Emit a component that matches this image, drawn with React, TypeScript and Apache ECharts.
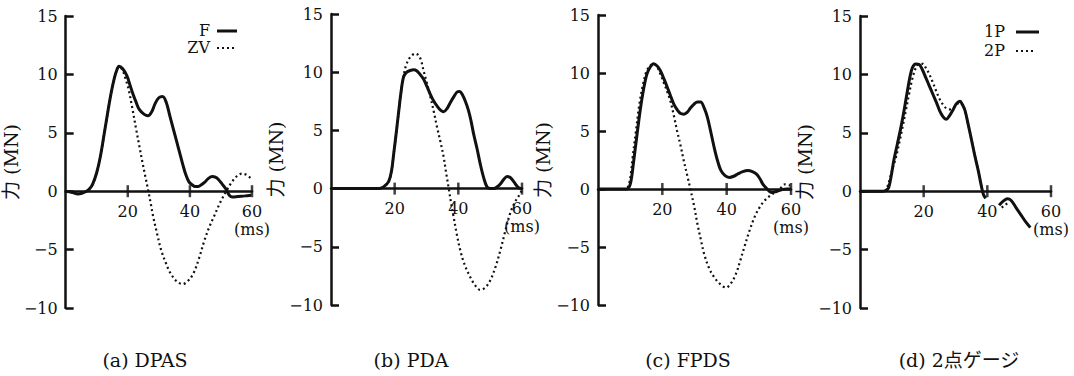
import React, { useEffect, useRef } from 'react';
import * as echarts from 'echarts';

// ---------- data ----------
const yMin = -10;
const yMax = 15;
const yStep = 5;
const xMin = 0;
const xMax = 60;
const xStep = 20;
const xTickValues = [20, 40, 60];
const xUnit = '(ms)';
const yName = '力 (MN)';
const captions = ['(a) DPAS', '(b) PDA', '(c) FPDS', '(d) 2点ゲージ'];
const legendA = ['F', 'ZV'];
const legendD = ['1P', '2P'];

// (a) DPAS
const aF = [[0,0],[2,-0.1],[4,-0.25],[5.5,-0.15],[6.7,0],[7.7,0.2],[8.7,0.6],[10,1.6],[11.2,3],[12.4,4.9],[13.7,7],[14.7,8.5],[15.7,9.7],[16.5,10.4],[17.2,10.7],[18.3,10.5],[19.7,9.9],[20.7,9.1],[21.7,8.3],[22.7,7.6],[23.7,7.0],[25.2,6.6],[26.5,6.45],[27.7,6.8],[28.8,7.5],[30,8.0],[31.2,8.1],[32.4,7.6],[33.5,6.5],[34.7,5.3],[35.7,4.3],[36.7,3.3],[37.7,2.3],[38.7,1.4],[39.7,0.8],[40.7,0.55],[41.7,0.4],[42.7,0.4],[43.7,0.55],[44.7,0.75],[46,1.1],[47.2,1.25],[48.2,1.2],[49.2,1.0],[50.4,0.6],[51.7,0.15],[52.7,-0.35],[53.7,-0.5],[55.5,-0.45],[57.7,-0.4],[59.7,-0.35]];
const aZV = [[0,0],[2,-0.1],[4,-0.25],[6.7,0],[8.7,0.6],[10,1.6],[11.2,3],[12.4,4.9],[13.7,7],[14.7,8.5],[15.7,9.7],[16.5,10.4],[17.2,10.7],[18.4,10.3],[19.3,9.6],[20.2,8.8],[21.4,7.2],[22.7,5.3],[23.7,3.9],[24.7,2.5],[25.7,1.2],[26.7,-0.1],[27.5,-1.2],[28.2,-2.2],[29.5,-3.7],[30.7,-5],[32.2,-6.1],[33.7,-7],[35.7,-7.7],[37.7,-7.95],[39.5,-7.65],[41.2,-7],[43,-5.7],[44.7,-4.2],[46.2,-3.1],[47.7,-2.2],[49.7,-1.0],[51.7,0],[53.7,0.85],[55.2,1.3],[56.7,1.5],[58.2,1.4],[59.7,1.1]];

// (b) PDA
const bF = [[0,0],[10,0],[15,0],[16.5,0.15],[18.1,0.6],[19,1.5],[19.7,3],[20.5,4.8],[21.3,6.7],[22,8.3],[22.8,9.6],[23.8,10],[24.9,10.15],[26,10.2],[27,10.1],[28,9.8],[29.1,9.4],[30.1,8.8],[31.2,8.1],[32.3,7.5],[33.3,7.1],[34.4,6.75],[35.4,6.6],[36.5,6.9],[37.5,7.4],[38.6,7.9],[39.6,8.3],[40.4,8.35],[41.2,8.1],[42.2,7.5],[43.2,6.7],[44,5.8],[44.8,4.7],[45.9,3.4],[46.9,2.1],[48,0.9],[49,0.15],[50,0],[51.1,0],[52.2,0.15],[53.2,0.4],[54.3,0.8],[55.3,1.05],[56.3,0.95],[57.4,0.6],[58.5,0.2],[59.5,0],[60,0]];
const bZV = [[0,0],[15,0],[16.5,0.15],[18.1,0.6],[19,1.5],[19.7,3],[20.5,4.8],[21.3,6.7],[22,8.3],[22.8,9.7],[23.6,10.6],[24.9,11.3],[26.5,11.6],[27.5,11.45],[28.3,11.0],[29.1,10.1],[30.1,9.1],[31.2,7.9],[32.3,6.6],[33.3,5.3],[34.4,4.0],[35.4,2.7],[36.2,1.3],[37,0],[37.7,-1.2],[38.5,-2.4],[39.5,-3.9],[40.6,-5.3],[41.8,-6.4],[43.2,-7.3],[45,-8.2],[46.9,-8.7],[48.5,-8.5],[50,-7.9],[51.6,-6.8],[53.2,-5.3],[54.7,-3.7],[56.3,-2.1],[57.9,-1.1],[59.5,-0.4],[60,0]];

// (c) FPDS
const cF = [[0,0],[5,0],[8.9,0],[9.9,0.3],[10.5,1.1],[11,2.2],[12,4.4],[13.1,6.75],[14.1,8.5],[15.2,9.9],[16.2,10.5],[17.3,10.8],[18.4,10.6],[19.4,10.2],[20.5,9.5],[21.5,8.8],[22.6,8],[23.6,7.3],[24.7,6.8],[25.7,6.5],[26.7,6.45],[27.7,6.6],[28.8,7],[29.8,7.3],[30.9,7.5],[31.9,7.5],[33,7.0],[34,6.2],[35,5],[36.1,3.6],[37.1,2.5],[38.2,1.6],[39.5,1.15],[40.8,1],[42.2,1.1],[43.5,1.3],[45,1.5],[46.6,1.6],[48,1.5],[49.2,1.3],[50.3,0.9],[51.3,0.4],[52.6,0],[53.9,-0.3],[55,-0.25],[56,-0.15],[57.3,-0.05],[58.6,0],[60,0]];
const cZV = [[0,0],[5,0],[8.6,0],[9.6,0.4],[10.3,1.5],[10.8,2.8],[11.8,5],[12.8,7.2],[13.9,8.9],[15,10.1],[16.1,10.6],[17.3,10.8],[18.4,10.5],[19.4,9.9],[20.4,9.2],[21.5,8.4],[22.5,7.6],[23.6,6.3],[24.6,5],[25.7,3.7],[26.7,2.4],[27.8,1.1],[28.8,-0.1],[29.9,-1.5],[30.9,-3],[32,-4.4],[33,-5.6],[34.5,-6.8],[36.1,-7.6],[38,-8.2],[39.8,-8.5],[41.4,-8.1],[42.9,-7.3],[44.2,-6.2],[45.5,-5],[47.1,-3.6],[48.7,-2.4],[50.2,-1.6],[51.8,-1],[53.4,-0.6],[55,-0.3],[56.5,0],[58.1,0.4],[59.7,0.3]];

// (d) 2点ゲージ
const d1P = [[0,0],[5,0],[7.4,0],[8.3,0.1],[9,0.3],[9.8,1.3],[10.6,2.6],[11.7,4],[12.8,5.4],[13.9,7],[14.9,8.6],[15.7,9.8],[16.5,10.6],[17.5,10.9],[18.6,10.85],[19.6,10.4],[20.7,9.7],[21.8,9],[22.9,8.3],[24,7.6],[25,6.9],[26,6.4],[27.1,6.15],[28.2,6.5],[29.3,7],[30.3,7.5],[31.4,7.7],[32.2,7.4],[33,6.9],[34,5.7],[35.1,4.3],[36.1,3.0],[37.2,1.7],[38,0.6],[38.8,-0.3],[39.5,-0.6],[42,null],[43.7,-1.2],[45,-0.85],[46.3,-0.65],[47.5,-0.8],[49,-1.4],[50.5,-2.0],[52,-2.6],[53.5,-3.1]];
const d2P = [[0,0],[5,0],[7.8,0],[8.5,0.3],[9.5,1.2],[10.3,2],[11.2,2.8],[12.3,4.1],[13.3,5.4],[14.4,6.9],[15.4,8.3],[16.5,9.7],[17.6,10.6],[18.6,10.9],[19.7,10.9],[20.8,10.5],[21.8,10],[22.9,9.3],[23.9,8.6],[25,7.9],[26.1,7.4],[27.1,7.1],[28.2,7],[29.3,7.1],[30.3,7.4],[31.4,7.6],[32.2,7.4],[33,6.9],[34,5.7],[35.1,4.3],[36.1,3.0],[37.2,1.7],[38,0.6],[38.8,-0.3],[39.5,-0.6],[42,null],[44.5,-1.4],[45.7,-1.15],[47,-0.9]];

const solidSeries = [aF, bF, cF, d1P];
const dottedSeries = [aZV, bZV, cZV, d2P];
const solidNames = [legendA[0], legendA[0], legendA[0], legendD[0]];
const dottedNames = [legendA[1], legendA[1], legendA[1], legendD[1]];

// ---------- layout ----------
const SERIF = "'DejaVu Serif', 'Liberation Serif', 'Noto Sans CJK JP', serif";
const INK = '#111';
const grids = [
  { left: 55, top: 16, width: 197, height: 292 },
  { left: 331, top: 14, width: 191, height: 291 },
  { left: 598, top: 15, width: 193, height: 290 },
  { left: 860, top: 16, width: 191, height: 292 },
];
const nameGaps = [33, 21, 21, 21];
const captionX = [145, 411, 688, 959];
const captionY = 360;

export default function App() {
  const ref = useRef<HTMLDivElement>(null);
  useEffect(() => {
    if (!ref.current) return;
    const chart = echarts.init(ref.current, null, { renderer: 'svg' });

    const xAxis = grids.map((g, i) => ({
      type: 'value',
      gridIndex: i,
      min: xMin,
      max: xMax,
      interval: xStep,
      position: 'bottom',
      // place the axis (line + labels) at y = 0
      offset: -(g.height * (0 - yMin)) / (yMax - yMin),
      axisLine: { show: true, onZero: false, lineStyle: { color: INK, width: 2.5 } },
      axisTick: { show: false },
      splitLine: { show: false },
      axisLabel: {
        color: INK,
        fontFamily: SERIF,
        fontSize: 16,
        margin: 11,
        lineHeight: 18,
        formatter: (v: number) => (v === xMin ? '' : v === xMax ? `${v}\n${xUnit}` : String(v)),
      },
    }));

    const yAxis = grids.map((_, i) => ({
      type: 'value',
      gridIndex: i,
      min: yMin,
      max: yMax,
      interval: yStep,
      name: yName,
      nameLocation: 'middle',
      nameGap: nameGaps[i],
      nameTextStyle: { color: INK, fontFamily: SERIF, fontSize: 19 },
      axisLine: { show: true, onZero: false, lineStyle: { color: INK, width: 2.5 } },
      axisTick: { show: true, inside: true, length: 8, lineStyle: { color: INK, width: 2.5 } },
      splitLine: { show: false },
      axisLabel: {
        color: INK,
        fontFamily: SERIF,
        fontSize: 16,
        margin: 8,
        formatter: (v: number) => (v < 0 ? '\u2212' + Math.abs(v) : String(v)),
      },
    }));

    const series: any[] = [];
    grids.forEach((_, i) => {
      series.push({
        type: 'line',
        name: dottedNames[i],
        xAxisIndex: i,
        yAxisIndex: i,
        data: dottedSeries[i],
        showSymbol: false,
        smooth: 0.35,
        connectNulls: false,
        lineStyle: { color: INK, width: 2.2, type: [2, 3] },
        z: 2,
        silent: true,
      });
      series.push({
        type: 'line',
        name: solidNames[i],
        xAxisIndex: i,
        yAxisIndex: i,
        data: solidSeries[i],
        showSymbol: false,
        smooth: 0.35,
        connectNulls: false,
        lineStyle: { color: INK, width: 3 },
        z: 3,
        silent: true,
      });
      series.push({
        type: 'scatter',
        xAxisIndex: i,
        yAxisIndex: i,
        data: xTickValues.map((v) => [v, 0]),
        symbol: 'rect',
        symbolSize: [2.5, 12],
        itemStyle: { color: INK },
        z: 4,
        silent: true,
      });
    });

    const legendGraphic = (labels: string[], textRight: number, y1: number, y2: number, lx1: number, lx2: number) => [
      { type: 'text', x: textRight, y: y1, style: { text: labels[0], font: `16px ${SERIF}`, fill: INK, align: 'right', verticalAlign: 'middle' } },
      { type: 'text', x: textRight, y: y2, style: { text: labels[1], font: `16px ${SERIF}`, fill: INK, align: 'right', verticalAlign: 'middle' } },
      { type: 'line', shape: { x1: lx1, y1: y1 + 1, x2: lx2, y2: y1 + 1 }, style: { stroke: INK, lineWidth: 3 } },
      { type: 'line', shape: { x1: lx1, y1: y2 + 1, x2: lx2 - 3, y2: y2 + 1 }, style: { stroke: INK, lineWidth: 2.2, lineDash: [2, 3] } },
    ];

    const graphic: any[] = [
      ...legendGraphic(legendA, 210, 30, 47, 217, 237),
      ...legendGraphic(legendD, 1005, 31, 50, 1016, 1039),
      ...captions.map((c, i) => ({
        type: 'text',
        x: captionX[i],
        y: captionY,
        style: { text: c, font: `19px ${SERIF}`, fill: INK, align: 'center', verticalAlign: 'middle' },
      })),
    ];

    chart.setOption({
      animation: false,
      backgroundColor: '#fff',
      grid: grids.map((g) => ({ ...g, containLabel: false })),
      xAxis,
      yAxis,
      series,
      graphic,
    });
    return () => chart.dispose();
  }, []);

  return <div ref={ref} style={{ position: 'fixed', left: 0, top: 0, width: 1074, height: 376, background: '#fff' }} />;
}
